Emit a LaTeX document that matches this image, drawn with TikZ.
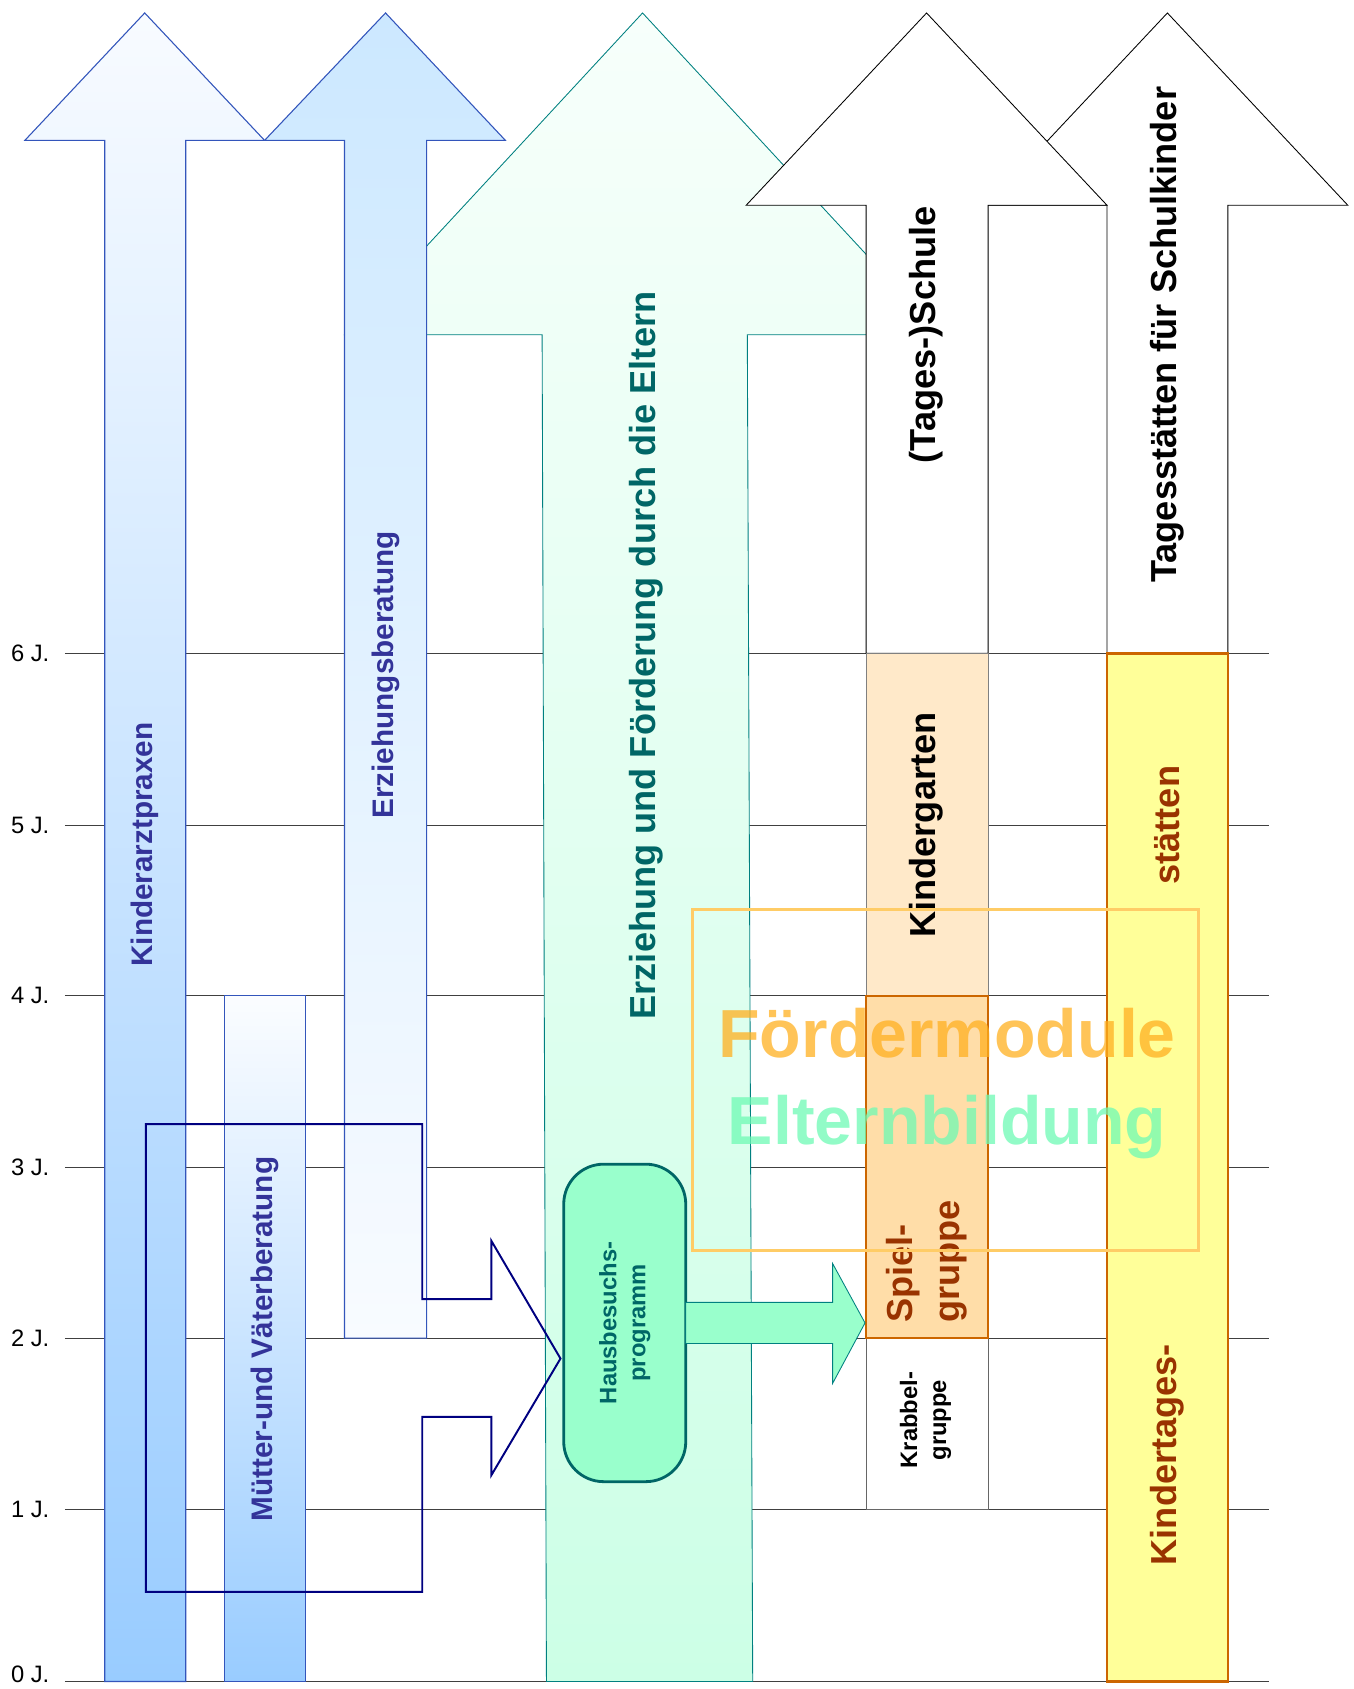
\documentclass[tikz,border=0pt]{standalone}
\usepackage{fontspec}
\setmainfont{Liberation Sans}
\definecolor{blueedge}{RGB}{51,85,187}
\definecolor{bluetext}{RGB}{51,51,153}
\definecolor{lightblue}{RGB}{153,204,255}
\definecolor{paleblue}{RGB}{248,251,255}
\definecolor{skyblue}{RGB}{204,232,255}
\definecolor{tealedge}{RGB}{0,128,128}
\definecolor{tealtext}{RGB}{0,102,102}
\definecolor{mintpale}{RGB}{247,255,251}
\definecolor{mintlight}{RGB}{204,255,230}
\definecolor{mintstrong}{RGB}{153,255,204}
\definecolor{peach}{RGB}{255,233,201}
\definecolor{orangefill}{RGB}{255,221,168}
\definecolor{orangeedge}{RGB}{204,102,0}
\definecolor{yellowfill}{RGB}{255,255,153}
\definecolor{kbrown}{RGB}{153,51,0}
\definecolor{navyline}{RGB}{0,0,128}
\definecolor{overlayedge}{RGB}{255,204,102}
\definecolor{foerder}{RGB}{255,176,32}
\definecolor{elterncol}{RGB}{110,250,180}
\begin{document}
\begin{tikzpicture}[x=1pt,y=-1pt,
  gridline/.style={draw=black!75,line width=1pt},
  ylab/.style={anchor=west,inner sep=0pt,font=\fontsize{22}{26}\selectfont},
  bluearrow/.style={draw=blueedge,line width=1pt},
  plainarrow/.style={draw=black,fill=white,line width=0.8pt},
  bluelabel/.style={rotate=90,inner sep=0pt,text=bluetext,font=\bfseries\fontsize{27.5}{33}\selectfont},
  biglabel/.style={rotate=90,inner sep=0pt,font=\bfseries\fontsize{33.5}{43.5}\selectfont},
  smalllabel/.style={rotate=90,inner sep=0pt,align=center,font=\bfseries\fontsize{22}{27}\selectfont}
]
\useasboundingbox (0,0) rectangle (1253,1564);

% grid and year labels
\foreach \yv/\lab in {1557/0,1398/1,1239/2,1081/3,922/4,764/5,605/6}{
  \draw[gridline] (60,\yv) -- (1175,\yv);
}
\node[ylab] (y0) at (10,1550) {0 J.};
\foreach \yv/\lab in {1398/1,1239/2,1081/3,922/4,764/5,605/6}{
  \node[ylab] (y\lab) at (10,\yv) {\lab\ J.};
}

% Tagesstaetten fuer Schulkinder arrow
\path[plainarrow] (1025,605) -- (1025,190) -- (914,190) -- (1081,12) -- (1248,190) -- (1137,190) -- (1137,605) -- cycle;

% big green arrow
\path[draw=tealedge,line width=0.8pt,top color=mintpale,bottom color=mintlight]
  (506,1557) -- (502,310) -- (319,310) -- (595,12) -- (871,310) -- (692,310) -- (697,1557) -- cycle;

% (Tages-)Schule arrow
\path[plainarrow] (802,605) -- (802,190) -- (691,190) -- (858,12) -- (1025,190) -- (915,190) -- (915,605) -- cycle;

% Kinderarztpraxen arrow
\path[bluearrow,top color=paleblue,bottom color=lightblue]
  (97,1557) -- (97,130) -- (23,130) -- (134,12) -- (245,130) -- (172,130) -- (172,1557) -- cycle;

% Erziehungsberatung arrow
\path[bluearrow,top color=skyblue,bottom color=paleblue]
  (319,1239) -- (319,130) -- (245,130) -- (357,12) -- (468,130) -- (395,130) -- (395,1239) -- cycle;

% Muetter- und Vaeterberatung bar
\path[bluearrow,top color=paleblue!60!white,bottom color=lightblue] (208,922) rectangle (283,1557);

% boxes in the Schule column
\path[draw=black!50,line width=0.8pt,fill=peach] (802,605) rectangle (915,922);
\path[draw=black!60,line width=0.8pt,fill=white] (802,1239) rectangle (915,1398);
\path[draw=orangeedge,line width=2pt,fill=orangefill] (802,922) rectangle (915,1239);

% Kindertagesstaetten bar
\path[draw=orangeedge,line width=2.5pt,fill=yellowfill] (1025,605) rectangle (1137,1557);

% navy outline arrow
\draw[navyline,line width=1.8pt,line join=miter]
  (135,1041) -- (391,1041) -- (391,1203) -- (455,1203) -- (455,1149) -- (519,1258)
  -- (455,1366) -- (455,1312) -- (391,1312) -- (391,1474) -- (135,1474) -- cycle;

% Hausbesuchsprogramm
\node[draw=tealtext,line width=2.6pt,fill=mintstrong,rounded corners=37pt,
  minimum width=113pt,minimum height=294pt,inner sep=0pt] (haus) at (578.5,1225) {};
\node[smalllabel,text=tealtext] (haustext) at (578.5,1225) {Hausbesuchs-\\programm};

% green arrow to Spielgruppe
\path[draw=tealedge,line width=0.8pt,fill=mintstrong]
  (635,1206) -- (771,1206) -- (771,1170) -- (801,1225) -- (771,1281) -- (771,1244) -- (635,1244) -- cycle;

% labels
\node[bluelabel] (kinderarzt) at (134,782) {Kinderarztpraxen};
\node[bluelabel] (erzb) at (357,625) {Erziehungsberatung};
\node[bluelabel] (mvb) at (245,1240) {Mütter-und Väterberatung};
\node[biglabel,text=tealtext] (eltern) at (598,607) {Erziehung und Förderung durch die Eltern};
\node[biglabel] (schule) at (858,310) {(Tages-)Schule};
\node[biglabel] (tst) at (1081,310) {Tagesstätten für Schulkinder};
\node[biglabel] (kg) at (858,764) {Kindergarten};
\node[biglabel,text=kbrown] (staetten) at (1081,764) {stätten};
\node[biglabel,text=kbrown] (kita) at (1081,1347) {Kindertages-};
\node[biglabel,text=kbrown,align=left] (spiel) at (858,1168) {Spiel-\\gruppe};
\node[smalllabel,text=black] (krabbel) at (857,1315) {Krabbel-\\gruppe};

% Foerdermodule overlay
\path[draw=overlayedge,line width=2.5pt] (641,842) rectangle (1110,1158);
\node[anchor=base,inner sep=0pt,text=foerder,text opacity=0.75,font=\bfseries\fontsize{63}{70}\selectfont] (foerd) at (877,979) {Fördermodule};
\node[anchor=base,inner sep=0pt,text=elterncol,text opacity=0.75,font=\bfseries\fontsize{63}{70}\selectfont] (elternb) at (877,1060) {Elternbildung};
\end{tikzpicture}
\end{document}
